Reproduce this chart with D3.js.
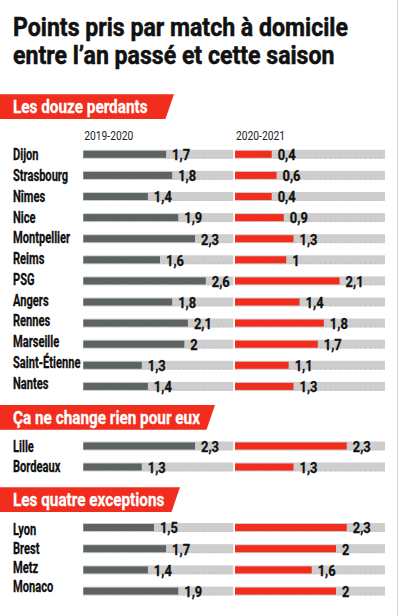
<!DOCTYPE html>
<html><head><meta charset="utf-8">
<script src="https://cdn.jsdelivr.net/npm/d3@7"></script>
<style>html,body{margin:0;padding:0;background:#fff;}svg{display:block;}</style>
</head><body>
<script>
// ---- DATA ----
const titleLines = ["Points pris par match à domicile", "entre l’an passé et cette saison"];
const seasons = ["2019-2020", "2020-2021"];
const sectionTitles = ["Les douze perdants", "Ça ne change rien pour eux", "Les quatre exceptions"];

const teamsLosers = ["Dijon","Strasbourg","Nîmes","Nice","Montpellier","Reims","PSG","Angers","Rennes","Marseille","Saint-Étienne","Nantes"];
const prevLosers  = [1.7,1.8,1.4,1.9,2.3,1.6,2.6,1.8,2.1,2,1.3,1.4];
const currLosers  = [0.4,0.6,0.4,0.9,1.3,1,2.1,1.4,1.8,1.7,1.1,1.3];

const teamsSame = ["Lille","Bordeaux"];
const prevSame  = [2.3,1.3];
const currSame  = [2.3,1.3];

const teamsExceptions = ["Lyon","Brest","Metz","Monaco"];
const prevExceptions  = [1.5,1.7,1.4,1.9];
const currExceptions  = [2.3,2,1.6,2];

// ---- LAYOUT ----
const W = 399, H = 616;
const C = {dark:"#5c6362", red:"#f22d1d", track:"#cecece", dot:"#adadad", text:"#111"};
const FONT = "Roboto, 'Noto Sans', sans-serif";

const svg = d3.select("body").append("svg").attr("width", W).attr("height", H);

// condensed-text emulation: measure reference string, compute horizontal scale
function scaleFor(str, size, weight, target) {
  const t = svg.append("text").attr("font-family", FONT).attr("font-size", size)
    .attr("font-weight", weight).text(str);
  const w = t.node().getComputedTextLength();
  t.remove();
  return target / w;
}
const S = {
  title:   {size: 25,   weight: 700, stroke: 0.5, sx: scaleFor(titleLines[0], 25, 700, 335)},
  section: {size: 19,   weight: 700, stroke: 0.3, sx: scaleFor(sectionTitles[1], 19, 700, 187)},
  team:    {size: 16,   weight: 700, stroke: 0.3, sx: scaleFor("Saint-Étienne", 16, 700, 67.5)},
  value:   {size: 15.5, weight: 700, stroke: 0.3, sx: scaleFor("2,3", 15.5, 700, 18)},
  head:    {size: 13.5, weight: 400, stroke: 0,   sx: scaleFor(seasons[0], 13.5, 400, 49)}
};
function ctext(g, x, y, str, st, fill) {
  const f = fill || C.text;
  const t = g.append("text")
    .attr("transform", `translate(${x},${y}) scale(${st.sx},1)`)
    .attr("font-family", FONT).attr("font-size", st.size).attr("font-weight", st.weight)
    .attr("fill", f).text(str);
  if (st.stroke) t.attr("stroke", f).attr("stroke-width", st.stroke).attr("stroke-linejoin", "round");
  return t;
}
const fmt = v => String(v).replace(".", ",");

// title
titleLines.forEach((l, i) => ctext(svg, 13, 36 + i * 28, l, S.title));

// bar-length scale (the original stretches short bars)
const len = d3.scaleLinear().domain([0.4, 1.3, 2, 2.6, 3]).range([36.7, 58.5, 101, 122.5, 150]);
const TRACK_MAX = 3;
const colX = [83.3, 235];
const colColor = [C.dark, C.red];

// season headers
seasons.forEach((s, i) => ctext(svg, colX[i] + 1, 140, s, S.head, "#222"));

const sections = [
  {title: sectionTitles[0], teams: teamsLosers, prev: prevLosers, curr: currLosers,
   bandTop: 94.3, bandRight: 174, firstRow: 154.3, step: 21.1, labelFirst: 160.3, labelStep: 20.75},
  {title: sectionTitles[1], teams: teamsSame, prev: prevSame, curr: currSame,
   bandTop: 405, bandRight: 215, firstRow: 446, step: 21, labelFirst: 451.5, labelStep: 20},
  {title: sectionTitles[2], teams: teamsExceptions, prev: prevExceptions, curr: currExceptions,
   bandTop: 487.3, bandRight: 180, firstRow: 527.5, step: 21.2, labelFirst: 535, labelStep: 18.9}
];

const BAND_H = 24.7, SLANT = 8.5, TRACK_H = 9, BAR_H = 7;

sections.forEach(sec => {
  const g = svg.append("g");
  // header band
  g.append("path")
    .attr("d", d3.line()([[0, sec.bandTop], [sec.bandRight, sec.bandTop],
      [sec.bandRight - SLANT, sec.bandTop + BAND_H], [0, sec.bandTop + BAND_H]]) + "Z")
    .attr("fill", C.red);
  ctext(g, 13, sec.bandTop + 19, sec.title, S.section, "#fff");

  const n = sec.teams.length;
  const y = d3.scalePoint().domain(sec.teams).range([sec.firstRow, sec.firstRow + (n - 1) * sec.step]);
  const yl = d3.scalePoint().domain(sec.teams).range([sec.labelFirst, sec.labelFirst + (n - 1) * sec.labelStep]);

  sec.teams.forEach((t, i) => {
    const cy = y(t);
    ctext(g, 13, yl(t), t, S.team);
    [sec.prev[i], sec.curr[i]].forEach((v, c) => {
      const x0 = colX[c];
      g.append("rect").attr("x", x0).attr("y", cy - TRACK_H / 2)
        .attr("width", len(TRACK_MAX)).attr("height", TRACK_H).attr("fill", C.track);
      g.append("line").attr("x1", x0).attr("x2", x0 + len(TRACK_MAX))
        .attr("y1", cy + 3.5).attr("y2", cy + 3.5)
        .attr("stroke", C.dot).attr("stroke-width", 0.8).attr("stroke-dasharray", "1,4");
      g.append("rect").attr("x", x0).attr("y", cy - BAR_H / 2)
        .attr("width", len(v)).attr("height", BAR_H).attr("fill", colColor[c]);
      ctext(g, x0 + len(v) + 6, cy + 5.8, fmt(v), S.value);
    });
  });
});

// right border line
svg.append("line").attr("x1", 397.5).attr("x2", 397.5).attr("y1", 0).attr("y2", H)
  .attr("stroke", "#d6d6d6").attr("stroke-width", 1);
</script>
</body></html>
